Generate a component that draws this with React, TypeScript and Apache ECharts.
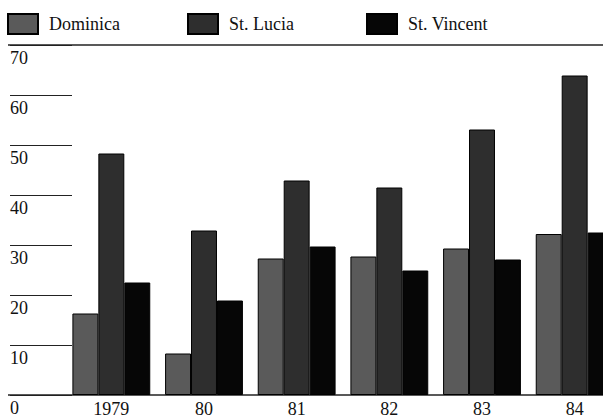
import React, { useEffect, useRef } from "react";
import * as echarts from "echarts";

const categories = ["1979", "80", "81", "82", "83", "84"];
const dominica = [16.3, 8.3, 27.3, 27.7, 29.3, 32.2];
const stLucia = [48.3, 32.9, 42.9, 41.5, 53.1, 63.9];
const stVincent = [22.5, 18.9, 29.7, 24.9, 27.1, 32.5];
const seriesNames = ["Dominica", "St. Lucia", "St. Vincent"];

const FONT = "'Liberation Serif', 'Times New Roman', serif";

export default function App() {
  const ref = useRef<HTMLDivElement>(null);
  useEffect(() => {
    if (!ref.current) return;
    const chart = echarts.init(ref.current, undefined, { renderer: "svg" });
    const colors = ["#5a5a5a", "#2e2e2e", "#060606"];
    const values = [dominica, stLucia, stVincent];
    const legendLefts = [7, 187, 366];
    const gridTop = 45;
    const gridHeight = 350;
    chart.setOption({
      animation: false,
      backgroundColor: "#ffffff",
      textStyle: { fontFamily: FONT },
      legend: seriesNames.map((n, i) => ({
        data: [n],
        left: legendLefts[i],
        top: 13,
        padding: 0,
        itemWidth: 30,
        itemHeight: 20,
        icon: "rect",
        textStyle: {
          fontFamily: FONT,
          fontSize: 18,
          color: "#111",
          padding: [0, 0, 0, 6],
        },
      })),
      grid: [
        { left: 65, top: gridTop, width: 556, height: gridHeight },
        { left: 10, top: gridTop, width: 62, height: gridHeight },
        { left: 8, width: 600, top: gridTop, height: gridHeight },
      ],
      xAxis: [
        {
          type: "category",
          gridIndex: 0,
          data: categories,
          axisLine: { show: false },
          axisTick: { show: false },
          axisLabel: {
            fontFamily: FONT,
            fontSize: 18,
            color: "#111",
            margin: 5,
          },
        },
        { type: "value", gridIndex: 1, show: false, min: 0, max: 1 },
        { type: "value", gridIndex: 2, show: false, min: 0, max: 1 },
      ],
      yAxis: [
        {
          type: "value",
          gridIndex: 0,
          min: 0,
          max: 70,
          interval: 10,
          splitLine: { show: false },
          axisLine: { show: false },
          axisTick: { show: false },
          axisLabel: {
            fontFamily: FONT,
            fontSize: 18,
            color: "#111",
            align: "left",
            verticalAlign: "top",
            margin: 55,
            padding: [4, 0, 0, 0],
          },
        },
        {
          type: "value",
          gridIndex: 1,
          min: 0,
          max: 70,
          interval: 10,
          axisLine: { show: false },
          axisTick: { show: false },
          axisLabel: { show: false },
          splitLine: { show: true, lineStyle: { color: "#222", width: 1.2 } },
        },
        {
          type: "value",
          gridIndex: 2,
          min: 0,
          max: 70,
          interval: 70,
          axisLine: { show: false },
          axisTick: { show: false },
          axisLabel: { show: false },
          splitLine: { show: true, lineStyle: { color: "#222", width: 1.5 } },
        },
      ],
      series: seriesNames.map((n, i) => ({
        name: n,
        type: "bar",
        xAxisIndex: 0,
        yAxisIndex: 0,
        data: values[i],
        barGap: "0%",
        barCategoryGap: "16%",
        itemStyle: { color: colors[i], borderColor: "#000", borderWidth: 1 },
      })),
    });
    return () => chart.dispose();
  }, []);
  return (
    <div
      style={{
        position: "fixed",
        left: 0,
        top: 0,
        width: 603,
        height: 418,
        overflow: "hidden",
        background: "#fff",
      }}
    >
      <div ref={ref} style={{ width: 630, height: 418 }} />
    </div>
  );
}
